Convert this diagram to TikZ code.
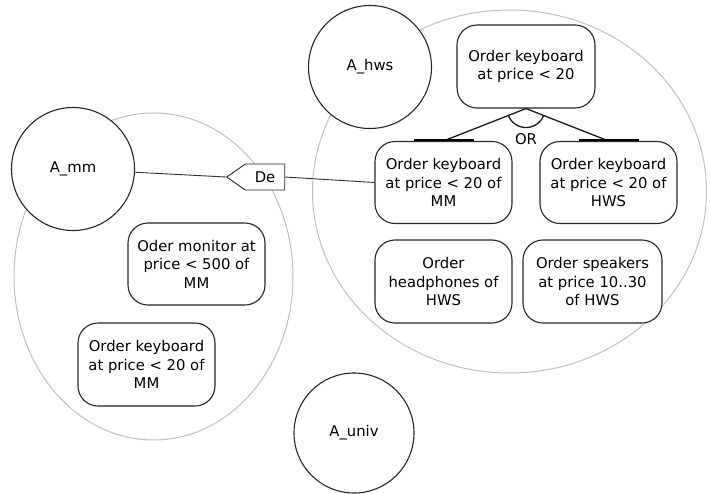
\documentclass[tikz,border=0pt]{standalone}
\usepackage{fontspec}
\setmainfont{DejaVu Sans}
\usetikzlibrary{shapes.symbols}

\begin{document}
\begin{tikzpicture}[x=1pt,y=-1pt,
	every node/.style={font=\fontsize{14.8}{18.5}\selectfont,align=center},
	agent/.style={draw=black!85,fill=white,circle,line width=1.1pt,minimum size=123pt,inner sep=0pt},
	group/.style={draw=black!25,line width=1pt},
	goal/.style={draw=black!85,fill=white,rounded corners=20pt,line width=1.1pt,minimum width=137pt,minimum height=82pt,inner sep=1pt},
	link/.style={black!80,line width=0.9pt},
	orline/.style={black!90,line width=1.3pt},
	orbar/.style={black,line width=2.2pt}]
\useasboundingbox (0,0) rectangle (710,493);

%groups
\draw[group] (153.5,276.5) ellipse [x radius=139.5,y radius=163.5];
\draw[group] (509.5,191.5) ellipse [x radius=197,y radius=181.5];

%agents
\node[agent] (mm) at (73,169) {A\_mm};
\node[agent] (hws) at (370,67) {A\_hws};
\node[agent,minimum size=120pt] (univ) at (354,433) {A\_univ};

%goals
\node[goal,minimum width=138pt,minimum height=83pt] (top) at (526,66.5) {Order keyboard\\at price < 20};
\node[goal] (kbmm) at (443.5,182.5) {Order keyboard\\at price < 20 of\\MM};
\node[goal] (kbhws) at (608.5,182.5) {Order keyboard\\at price < 20 of\\HWS};
\node[goal,minimum height=83pt] (phones) at (443.5,281.5) {Order\\headphones of\\HWS};
\node[goal,minimum width=139pt,minimum height=83pt] (speakers) at (592.5,281.5) {Order speakers\\at price 10..30\\of HWS};
\node[goal] (monitor) at (196.5,264) {Oder monitor at\\price < 500 of\\MM};
\node[goal,minimum height=83pt] (kbleft) at (146.5,364.5) {Order keyboard\\at price < 20 of\\MM};

%delegation
\node[draw=black!85,fill=white,line width=0.9pt,signal,signal to=west,signal pointer angle=70,
	minimum width=58pt,minimum height=26pt,inner sep=1pt] (de) at (265,177) {De};
\draw[link] (mm) -- (de.west);
\draw[link] (de.east) -- (kbmm.west);

%or decomposition
\foreach \c in {kbmm,kbhws}
	{\draw[orline] (top.south) -- (\c.north);
	\draw[orbar] ([xshift=-30pt,yshift=1pt]\c.north) -- ([xshift=30pt,yshift=1pt]\c.north);}
\draw[orline] (top.south) ++(22:19) arc[start angle=22,end angle=158,radius=19];
\node[inner sep=0pt] (orlbl) at (526,139) {OR};
\end{tikzpicture}
\end{document}
